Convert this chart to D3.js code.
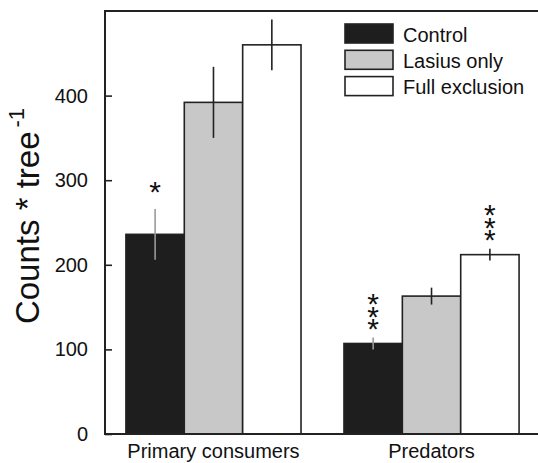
<!DOCTYPE html>
<html>
<head>
<meta charset="utf-8">
<script src="https://cdn.jsdelivr.net/npm/d3@7"></script>
<style>
  html, body { margin: 0; padding: 0; background: #fff; }
  svg { display: block; font-family: "Liberation Sans", Arial, sans-serif; }
</style>
</head>
<body>
<svg id="chart" width="538" height="463"></svg>
<script>
// ---- data ----
const groups = ["Primary consumers", "Predators"];
const treatments = ["Control", "Lasius only", "Full exclusion"];
const controlVals = [236, 107];
const lasiusVals = [392, 163];
const fullVals = [460, 212];
const controlErr = [30, 7];
const lasiusErr = [42, 10];
const fullErr = [30, 7];
const controlSig = ["*", "***"];
const lasiusSig = ["", ""];
const fullSig = ["", "***"];
const yTicks = [0, 100, 200, 300, 400];

// ---- styles ----
const fills = ["#1e1e1e", "#c8c8c8", "#ffffff"];
const errColors = ["#9a9a9a", "#222", "#222"];
const ink = "#222";

const svg = d3.select("#chart");
const margin = { left: 105, top: 11, bottom: 434, right: 540 };

const y = d3.scaleLinear().domain([0, 500]).range([margin.bottom, margin.top]);
const x0 = d3.scaleBand().domain(groups).range([margin.left, margin.right])
  .paddingInner(0.197).paddingOuter(0.096);
const x1 = d3.scaleBand().domain(treatments).range([0, x0.bandwidth()]);

const valsBy = [controlVals, lasiusVals, fullVals];
const errBy = [controlErr, lasiusErr, fullErr];
const sigBy = [controlSig, lasiusSig, fullSig];

const data = [];
groups.forEach((g, gi) => {
  treatments.forEach((t, ti) => {
    data.push({ g, t, ti, v: valsBy[ti][gi], e: errBy[ti][gi], sig: sigBy[ti][gi] });
  });
});

// bars
svg.append("g").selectAll("rect").data(data).join("rect")
  .attr("x", d => x0(d.g) + x1(d.t))
  .attr("y", d => y(d.v))
  .attr("width", x1.bandwidth())
  .attr("height", d => y(0) - y(d.v))
  .attr("fill", d => fills[d.ti])
  .attr("stroke", ink)
  .attr("stroke-width", 1.6);

// error bars
svg.append("g").selectAll("line").data(data).join("line")
  .attr("x1", d => x0(d.g) + x1(d.t) + x1.bandwidth() / 2)
  .attr("x2", d => x0(d.g) + x1(d.t) + x1.bandwidth() / 2)
  .attr("y1", d => y(d.v + d.e))
  .attr("y2", d => y(d.v - d.e))
  .attr("stroke", d => errColors[d.ti])
  .attr("stroke-width", 1.6);

// significance stars: one text per mark, glyphs stacked via per-character x/y lists
const starG = svg.append("g").attr("fill", "#111");
data.filter(d => d.sig).forEach(d => {
  const cx = x0(d.g) + x1(d.t) + x1.bandwidth() / 2;
  const n = d.sig.length;
  const fs = 30;
  const step = 12.5;
  const gap = n === 1 ? 24 : 16;
  const topCenter = y(d.v + d.e) - gap - (n - 1) * step;
  const xs = d3.range(n).map(() => cx.toFixed(1)).join(" ");
  const ys = d3.range(n).map(k => (topCenter + k * step + 0.58 * fs).toFixed(1)).join(" ");
  starG.append("text")
    .attr("x", xs)
    .attr("y", ys)
    .attr("text-anchor", "middle")
    .attr("font-size", fs)
    .text(d.sig);
});

// y axis
const yAxis = d3.axisRight(y).tickValues(yTicks).tickSize(7).tickFormat(d3.format("d"));
const ya = svg.append("g").attr("transform", `translate(${margin.left},0)`).call(yAxis);
ya.select(".domain").remove();
ya.selectAll(".tick line").attr("stroke", ink).attr("stroke-width", 1.6);
ya.selectAll(".tick text")
  .attr("x", -17).attr("text-anchor", "end")
  .attr("font-size", 20).attr("fill", "#111");

// frame lines
svg.append("line").attr("x1", margin.left).attr("x2", margin.left)
  .attr("y1", margin.top).attr("y2", margin.bottom)
  .attr("stroke", ink).attr("stroke-width", 2);
svg.append("line").attr("x1", margin.left - 1).attr("x2", 538)
  .attr("y1", margin.top).attr("y2", margin.top)
  .attr("stroke", ink).attr("stroke-width", 2);
svg.append("line").attr("x1", margin.left - 1).attr("x2", 538)
  .attr("y1", margin.bottom).attr("y2", margin.bottom)
  .attr("stroke", ink).attr("stroke-width", 2);

// x labels
svg.append("g").selectAll("text").data(groups).join("text")
  .attr("x", d => x0(d) + x0.bandwidth() / 2)
  .attr("y", 458)
  .attr("text-anchor", "middle")
  .attr("font-size", 20)
  .attr("fill", "#111")
  .text(d => d);

// y title
const yt = svg.append("text")
  .attr("transform", "translate(39,216) rotate(-90)")
  .attr("text-anchor", "middle")
  .attr("font-size", 33)
  .attr("fill", "#111");
yt.append("tspan").text("Counts * tree");
yt.append("tspan").attr("dy", -15).attr("dx", 4).attr("font-size", 22).text("-1");

// legend
const lg = svg.append("g").attr("transform", "translate(345,24)");
treatments.forEach((t, i) => {
  lg.append("rect").attr("x", 0).attr("y", i * 26.3).attr("width", 48).attr("height", 19)
    .attr("fill", fills[i]).attr("stroke", ink).attr("stroke-width", 1.6);
  lg.append("text").attr("x", 58).attr("y", i * 26.3 + 17.5)
    .attr("font-size", 20).attr("fill", "#111").text(t);
});
</script>
</body>
</html>
